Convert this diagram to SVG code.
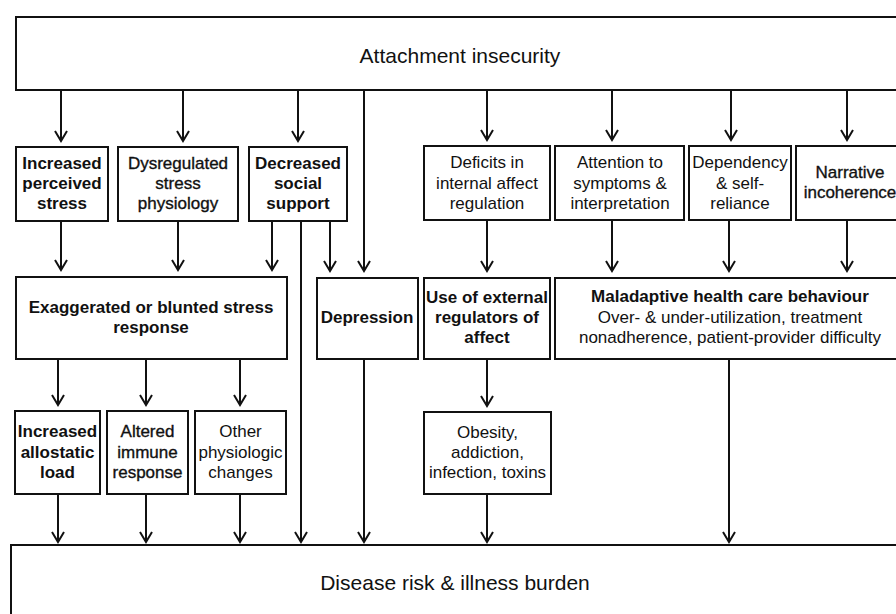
<svg xmlns="http://www.w3.org/2000/svg" width="896" height="614" viewBox="0 0 896 614">
  <style>
    .box { fill: #fff; stroke: #111; stroke-width: 2; }
    .t { font-family: "Liberation Sans", Arial, sans-serif; font-size: 17px; fill: #111; text-anchor: middle; }
    .b { font-weight: bold; }
    .m { stroke: #111; stroke-width: 0.35; }
    .big { font-size: 21px; }
    .cn line { stroke: #111; stroke-width: 2; marker-end: url(#arr); }
    .cn line.plain { marker-end: none; }
  </style>
  <defs>
    <marker id="arr" viewBox="-12 -8 14 16" refX="0" refY="0" markerWidth="14" markerHeight="16" markerUnits="userSpaceOnUse" orient="auto">
      <path d="M-10,-6 L0,0 L-10,6" fill="none" stroke="#111" stroke-width="2"/>
    </marker>
  </defs>
  <rect width="896" height="614" fill="#fff"/>

  <!-- top -->
  <g id="attachment">
    <rect class="box" x="16" y="17" width="900" height="73"/>
    <text class="t big" x="460" y="63">Attachment insecurity</text>
  </g>

  <!-- first tier -->
  <g id="perceived-stress">
    <rect class="box" x="16" y="147" width="92" height="74"/>
    <text class="t b" x="62" y="169">Increased</text>
    <text class="t b" x="62" y="189">perceived</text>
    <text class="t b" x="62" y="209">stress</text>
  </g>
  <g id="stress-physiology">
    <rect class="box" x="118" y="147" width="120" height="74"/>
    <text class="t m" x="178" y="169">Dysregulated</text>
    <text class="t m" x="178" y="189">stress</text>
    <text class="t m" x="178" y="209">physiology</text>
  </g>
  <g id="social-support">
    <rect class="box" x="249" y="147" width="98" height="74"/>
    <text class="t b" x="298" y="169">Decreased</text>
    <text class="t b" x="298" y="189">social</text>
    <text class="t b" x="298" y="209">support</text>
  </g>
  <g id="affect-regulation">
    <rect class="box" x="424" y="146" width="126" height="74"/>
    <text class="t" x="487" y="168">Deficits in</text>
    <text class="t" x="487" y="189">internal affect</text>
    <text class="t" x="487" y="209">regulation</text>
  </g>
  <g id="symptoms">
    <rect class="box" x="555" y="146" width="129" height="74"/>
    <text class="t" x="620" y="168">Attention to</text>
    <text class="t" x="620" y="189">symptoms &amp;</text>
    <text class="t" x="620" y="209">interpretation</text>
  </g>
  <g id="dependency">
    <rect class="box" x="689" y="146" width="102" height="74"/>
    <text class="t" x="740" y="168">Dependency</text>
    <text class="t" x="740" y="189">&amp; self-</text>
    <text class="t" x="740" y="209">reliance</text>
  </g>
  <g id="narrative">
    <rect class="box" x="796" y="146" width="120" height="74"/>
    <text class="t m" x="850" y="178">Narrative</text>
    <text class="t m" x="850" y="198">incoherence</text>
  </g>

  <!-- second tier -->
  <g id="stress-response">
    <rect class="box" x="16" y="277" width="271" height="82"/>
    <text class="t b" x="151" y="313">Exaggerated or blunted stress</text>
    <text class="t b" x="151" y="333">response</text>
  </g>
  <g id="depression">
    <rect class="box" x="317" y="278" width="101" height="81"/>
    <text class="t b" x="367" y="323">Depression</text>
  </g>
  <g id="external-regulators">
    <rect class="box" x="424" y="278" width="126" height="81"/>
    <text class="t b" x="487" y="303">Use of external</text>
    <text class="t b" x="487" y="323">regulators of</text>
    <text class="t b" x="487" y="343">affect</text>
  </g>
  <g id="health-care">
    <rect class="box" x="555" y="278" width="360" height="81"/>
    <text class="t b" x="730" y="302">Maladaptive health care behaviour</text>
    <text class="t" x="730" y="323">Over- &amp; under-utilization, treatment</text>
    <text class="t" x="730" y="343">nonadherence, patient-provider difficulty</text>
  </g>

  <!-- third tier -->
  <g id="allostatic-load">
    <rect class="box" x="15" y="411" width="85" height="83"/>
    <text class="t b" x="57.5" y="437">Increased</text>
    <text class="t b" x="57.5" y="458">allostatic</text>
    <text class="t b" x="57.5" y="478">load</text>
  </g>
  <g id="immune-response">
    <rect class="box" x="107" y="411" width="81" height="83"/>
    <text class="t m" x="147.5" y="437">Altered</text>
    <text class="t m" x="147.5" y="458">immune</text>
    <text class="t m" x="147.5" y="478">response</text>
  </g>
  <g id="physiologic-changes">
    <rect class="box" x="195" y="411" width="91" height="83"/>
    <text class="t" x="240.5" y="437">Other</text>
    <text class="t" x="240.5" y="458">physiologic</text>
    <text class="t" x="240.5" y="478">changes</text>
  </g>
  <g id="obesity">
    <rect class="box" x="424" y="412" width="127" height="82"/>
    <text class="t" x="487.5" y="438">Obesity,</text>
    <text class="t" x="487.5" y="458">addiction,</text>
    <text class="t" x="487.5" y="478">infection, toxins</text>
  </g>

  <!-- outcome -->
  <g id="disease">
    <rect class="box" x="11" y="545" width="900" height="80"/>
    <text class="t big" x="455" y="590">Disease risk &amp; illness burden</text>
  </g>

  <g id="connectors" class="cn">
    <line x1="61" y1="91" x2="61" y2="141"/>
    <line x1="183" y1="91" x2="183" y2="141"/>
    <line x1="298" y1="91" x2="298" y2="141"/>
    <line x1="487" y1="91" x2="487" y2="140"/>
    <line x1="612" y1="91" x2="612" y2="140"/>
    <line x1="731" y1="91" x2="731" y2="140"/>
    <line x1="847" y1="91" x2="847" y2="140"/>
    <line x1="364" y1="91" x2="364" y2="271"/>

    <line x1="61" y1="222" x2="61" y2="270"/>
    <line x1="178" y1="222" x2="178" y2="270"/>
    <line x1="272" y1="222" x2="272" y2="270"/>
    <line x1="330" y1="222" x2="330" y2="271"/>
    <line x1="301" y1="222" x2="301" y2="542"/>
    <line x1="487" y1="221" x2="487" y2="271"/>
    <line x1="612" y1="221" x2="612" y2="271"/>
    <line x1="729" y1="221" x2="729" y2="271"/>
    <line x1="847" y1="221" x2="847" y2="271"/>

    <line x1="58" y1="360" x2="58" y2="405"/>
    <line x1="146" y1="360" x2="146" y2="405"/>
    <line x1="240" y1="360" x2="240" y2="405"/>
    <line x1="487" y1="360" x2="487" y2="406"/>
    <line x1="364" y1="360" x2="364" y2="542"/>
    <line x1="729" y1="360" x2="729" y2="542"/>

    <line x1="58" y1="495" x2="58" y2="542"/>
    <line x1="146" y1="495" x2="146" y2="542"/>
    <line x1="240" y1="495" x2="240" y2="542"/>
    <line x1="487" y1="495" x2="487" y2="542"/>
  </g>
</svg>
